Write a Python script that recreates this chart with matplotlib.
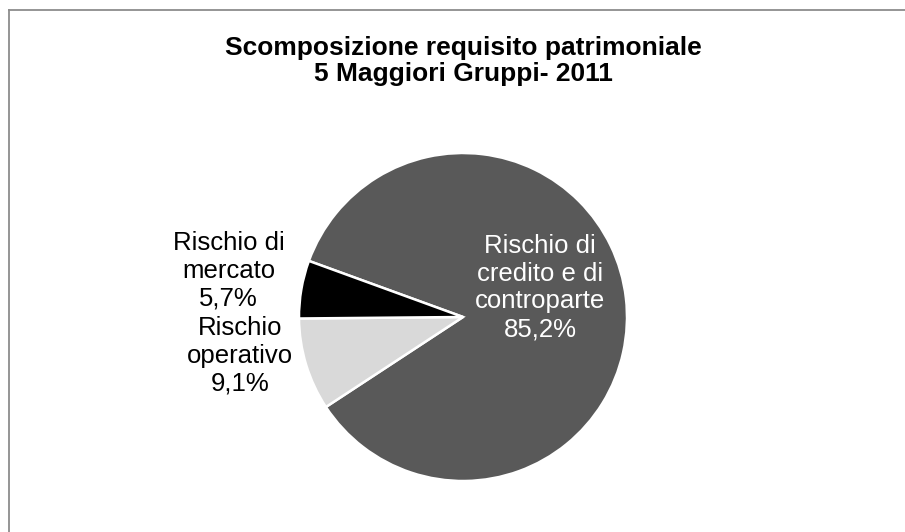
import matplotlib.pyplot as plt
from matplotlib.lines import Line2D

plt.rcParams['font.family'] = ['Liberation Sans', 'DejaVu Sans']

# data
categories = ["Rischio di\ncredito e di\ncontroparte", "Rischio\noperativo", "Rischio di\nmercato"]
shares = [85.2, 9.1, 5.7]
colors = ["#595959", "#d9d9d9", "#000000"]
label_colors = ["white", "black", "black"]
# label anchor points, in pie radius units
label_pos = [(0.47, 0.18), (-1.36, -0.235), (-1.43, 0.28)]

W, H = 905, 532
fig = plt.figure(figsize=(W / 100, H / 100), dpi=100)
fig.patch.set_facecolor("white")

# pie centre / radius in pixels
cx, cy, r = 463, 317, 164
ax = fig.add_axes([(cx - r) / W, (H - cy - r) / H, 2 * r / W, 2 * r / H])
ax.pie(shares, colors=colors, startangle=160, counterclock=False,
       wedgeprops=dict(edgecolor="white", linewidth=1.8))
ax.set_xlim(-1, 1)
ax.set_ylim(-1, 1)
ax.set_aspect("equal")
ax.axis("off")

for name, val, (x, y), c in zip(categories, shares, label_pos, label_colors):
    txt = f"{name}\n{val:.1f}%".replace(".", ",")
    ax.text(x, y, txt, ha="center", va="center", fontsize=18.5, color=c,
            linespacing=1.2, clip_on=False)

fig.text(cx / W, 1 - 61 / H, "Scomposizione requisito patrimoniale\n5 Maggiori Gruppi- 2011",
         ha="center", va="center", fontsize=19, fontweight="bold", linespacing=1.1)

# outer chart frame (left and top edges)
fx, fy = 9 / W, 1 - 10 / H
fig.add_artist(Line2D([fx, fx], [0, fy], transform=fig.transFigure, color="#8c8c8c", lw=1.3))
fig.add_artist(Line2D([fx, 1], [fy, fy], transform=fig.transFigure, color="#8c8c8c", lw=1.3))

fig.savefig("out.png", dpi=100)
